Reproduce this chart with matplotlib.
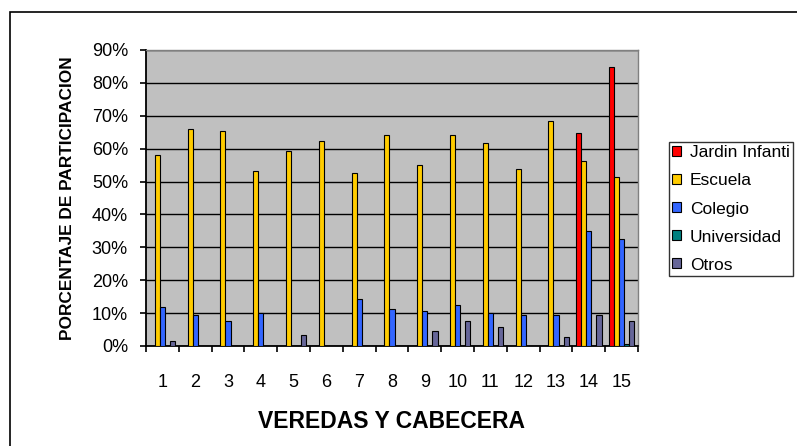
import matplotlib.pyplot as plt
from matplotlib.patches import Rectangle
from matplotlib.ticker import PercentFormatter, FixedLocator
import numpy as np

plt.rcParams['font.family'] = ['Liberation Sans', 'DejaVu Sans']

categorias = [str(i) for i in range(1, 16)]
series = ['Jardin Infanti', 'Escuela', 'Colegio', 'Universidad', 'Otros']
colores = ['#FF0000', '#FFCC00', '#3366FF', '#008080', '#666699']

jardin = [0, 0, 0, 0, 0, 0, 0, 0, 0, 0, 0, 0, 0, 64.7, 84.9]
escuela = [58.1, 66.0, 65.5, 53.2, 59.3, 62.4, 52.6, 64.1, 55.0, 64.1, 61.7, 53.9, 68.5, 56.2, 51.5]
colegio = [12.0, 9.3, 7.7, 10.1, 0, 0, 14.4, 11.4, 10.7, 12.6, 10.0, 9.3, 9.3, 35.1, 32.6]
universidad = [0, 0, 0, 0, 0, 0, 0, 0, 0, 0, 0, 0, 0, 0, 0.5]
otros = [1.6, 0, 0, 0, 3.4, 0, 0, 0, 4.7, 7.7, 5.9, 0, 2.8, 9.3, 7.7]

valores = [jardin, escuela, colegio, universidad, otros]

fig = plt.figure(figsize=(7.97, 4.46), dpi=100)
ax = fig.add_axes([146 / 797, 1 - 346 / 446, 492 / 797, 296 / 446])

# marco exterior del grafico
fig.patches.append(Rectangle((10 / 797, -0.1), 1.2, (434 / 446) + 0.1,
                             transform=fig.transFigure, fill=False,
                             edgecolor='black', linewidth=1.2))

ax.set_facecolor('#C0C0C0')
x = np.arange(len(categorias))
w = 0.155
for i, (nombre, vals, col) in enumerate(zip(series, valores, colores)):
    ax.bar(x + (i - 2) * w, np.array(vals) / 100, width=w, color=col,
           edgecolor='black', linewidth=0.8, label=nombre, zorder=3)

ax.set_xlim(-0.5, len(categorias) - 0.5)
ax.set_ylim(0, 0.9)
ax.set_yticks(np.arange(0, 0.91, 0.1))
ax.yaxis.set_major_formatter(PercentFormatter(1.0, decimals=0))
ax.grid(axis='y', color='black', linewidth=1.0, zorder=1)

ax.set_xticks(x)
ax.set_xticklabels(categorias)
ax.xaxis.set_minor_locator(FixedLocator(np.arange(-0.5, len(categorias), 1)))
ax.tick_params(axis='x', which='major', length=0, pad=20, labelsize=13)
ax.tick_params(axis='x', which='minor', length=4, width=1.2, direction='out')
ax.tick_params(axis='y', length=4, width=1.2, direction='out', pad=9, labelsize=13)

for s in ['left', 'bottom']:
    ax.spines[s].set_color('black')
    ax.spines[s].set_linewidth(1.3)
for s in ['top', 'right']:
    ax.spines[s].set_color('#808080')
    ax.spines[s].set_linewidth(1.0)

ax.set_xlabel('VEREDAS Y CABECERA', fontsize=16.5, fontweight='bold', labelpad=14)
ax.set_ylabel('PORCENTAJE DE PARTICIPACION', fontsize=12.4, fontweight='bold', labelpad=12)

leg = ax.legend(loc='upper left', bbox_to_anchor=(669 / 797, 1 - 142 / 446),
                bbox_transform=fig.transFigure, fontsize=12.5, frameon=True,
                fancybox=False, edgecolor='black', handlelength=0.5,
                handleheight=0.5, handletextpad=0.5, labelspacing=0.75,
                borderpad=0.2, borderaxespad=0)
leg.get_frame().set_linewidth(1.0)

fig.savefig('out.png', dpi=100)
